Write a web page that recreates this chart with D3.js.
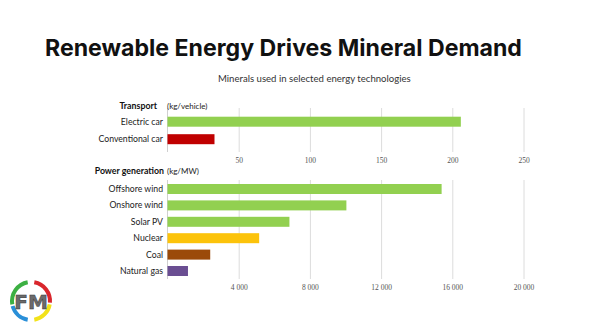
<!DOCTYPE html>
<html><head><meta charset="utf-8">
<script src="https://cdn.jsdelivr.net/npm/d3@7"></script>
<style>
html,body{margin:0;padding:0;background:#fff;}
svg{display:block;}
</style></head>
<body>
<svg id="c" width="589" height="327"></svg>
<script>
const title = "Renewable Energy Drives Mineral Demand";
const subtitle = "Minerals used in selected energy technologies";

const transportCats = ["Electric car", "Conventional car"];
const transportVals = [206, 33];
const transportColors = ["#92d050", "#c00000"];
const transportTicks = [50, 100, 150, 200, 250];

const powerCats = ["Offshore wind", "Onshore wind", "Solar PV", "Nuclear", "Coal", "Natural gas"];
const powerVals = [15400, 10050, 6850, 5150, 2400, 1150];
const powerColors = ["#92d050", "#92d050", "#92d050", "#fcc30b", "#9b4a0a", "#6a4e92"];
const powerTicks = [4000, 8000, 12000, 16000, 20000];

const svg = d3.select("#c");
svg.append("rect").attr("width",589).attr("height",327).attr("fill","#fff");

// Title
const t = svg.append("text").attr("x",45).attr("y",56)
  .attr("font-family","Inter").attr("font-weight",700).attr("font-size",24)
  .attr("fill","#111").text(title);
const tl = t.node().getComputedTextLength();
t.attr("font-size", 24*477/tl);

const st = svg.append("text").attr("x",218).attr("y",82)
  .attr("font-family","Lato").attr("font-size",11).attr("fill","#333").text(subtitle);
const sl = st.node().getComputedTextLength();
st.attr("font-size", 11*193/sl);

const x0 = 167.5, x1 = 523.5;
const xT = d3.scaleLinear().domain([0,250]).range([x0,x1]);
const xP = d3.scaleLinear().domain([0,20000]).range([x0,x1]);
const yT = d3.scalePoint().domain(transportCats).range([121.7,139.2]);
const yP = d3.scalePoint().domain(powerCats).range([189,271]);
const barH = 10;
const fmt = v => d3.format(",")(v).replace(/,/g," ");

function panel(xs, ys, cats, vals, colors, ticks, gTop, gBot, tickFmt, head, unit, headY, headX){
  const g = svg.append("g");
  const ax = d3.axisBottom(xs).tickValues(ticks).tickSize(-(gBot-gTop)).tickPadding(6).tickFormat(tickFmt);
  const a = g.append("g").attr("transform",`translate(0,${gBot})`).call(ax);
  a.select(".domain").remove();
  a.selectAll(".tick line").attr("stroke","#dcdcdc").attr("stroke-width",1);
  a.selectAll(".tick text").attr("font-family","Liberation Serif").attr("font-size",7.5).attr("fill","#555");
  g.append("line").attr("x1",xs(0)).attr("x2",xs(0)).attr("y1",gTop).attr("y2",gBot)
    .attr("stroke","#d0d0d0");
  g.selectAll("rect.bar").data(vals).join("rect").attr("class","bar")
    .attr("x",xs(0)).attr("y",(d,i)=>ys(cats[i])-barH/2)
    .attr("width",d=>xs(d)-xs(0)).attr("height",barH)
    .attr("fill",(d,i)=>colors[i]);
  g.selectAll("text.lab").data(cats).join("text").attr("class","lab")
    .attr("x",163).attr("y",d=>ys(d)+3)
    .attr("text-anchor","end").attr("font-family","Lato").attr("font-size",8.7).attr("fill","#222")
    .text(d=>d);
  g.append("text").attr("x",headX).attr("y",headY).attr("text-anchor","end")
    .attr("font-family","Lato").attr("font-weight",700).attr("font-size",8.8).attr("fill","#111").text(head);
  g.append("text").attr("x",167).attr("y",headY).attr("font-family","Lato")
    .attr("font-size",8).attr("fill","#222").text(unit);
}

panel(xT, yT, transportCats, transportVals, transportColors, transportTicks, 108, 152, d=>d,
      "Transport", "(kg/vehicle)", 108.5, 157);
panel(xP, yP, powerCats, powerVals, powerColors, powerTicks, 180, 279, fmt,
      "Power generation", "(kg/MW)", 174, 164);

// Logo
const lg = svg.append("g").attr("transform","translate(31,301)");
const arcs = [
  {s:-100, e:-10, c:"#3cb043"},
  {s:10, e:95, c:"#d9262c"},
  {s:100, e:170, c:"#f2e21a"},
  {s:190, e:255, c:"#2a8fd8"}
];
arcs.forEach(a=>{
  const arc = d3.arc().innerRadius(17).outerRadius(21).startAngle(a.s*Math.PI/180).endAngle(a.e*Math.PI/180);
  lg.append("path").attr("d",arc()).attr("fill",a.c);
});
lg.append("text").attr("x",0).attr("y",8).attr("text-anchor","middle")
  .attr("font-family","DejaVu Sans").attr("font-weight",700).attr("font-size",20)
  .attr("fill","#6b6b6b").attr("stroke","#333").attr("stroke-width",0.5).text("FM");
</script>
</body></html>
